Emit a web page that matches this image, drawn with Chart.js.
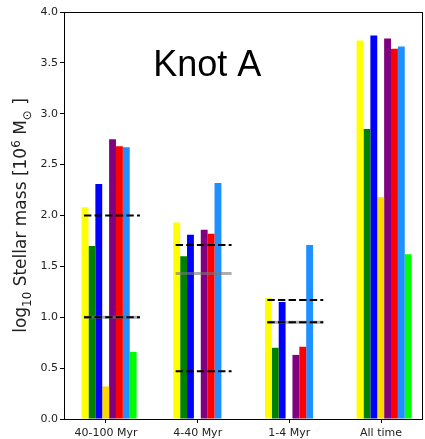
<!DOCTYPE html>
<html>
<head>
<meta charset="utf-8">
<script src="https://cdn.jsdelivr.net/npm/chart.js@4.4.1/dist/chart.umd.min.js"></script>
<style>
  html, body { margin: 0; padding: 0; background: #fff; }
  canvas { display: block; }
</style>
</head>
<body>
<canvas id="massChart" width="425" height="439"></canvas>
<script>
// ---- data (log10 stellar mass, 10^6 Msun) ----
const AGE_BINS = ['40-100 Myr', '4-40 Myr', '1-4 Myr', 'All time'];

const yellowVals = [2.08, 1.93, 1.19, 3.72];
const greenVals  = [1.70, 1.60, 0.70, 2.85];
const blueVals   = [2.31, 1.81, 1.15, 3.77];
const goldVals   = [0.32, null, null, 2.18];
const purpleVals = [2.75, 1.86, 0.63, 3.74];
const redVals    = [2.68, 1.82, 0.71, 3.64];
const dodgerVals = [2.67, 2.32, 1.71, 3.66];
const limeVals   = [0.66, null, null, 1.62];

// horizontal reference levels per age bin (first three bins only)
const dashUpper = [2.00, 1.71, 1.17];
const dashLower = [1.00, 0.47, 0.95];
const greyLevel = [1.00, 1.43, 0.95];

const Y_TICKS = [0, 0.5, 1, 1.5, 2, 2.5, 3, 3.5, 4];

// ============================================================
const SERIES = [
    { vals: yellowVals, color: '#ffff00' },
    { vals: greenVals,  color: '#008000' },
    { vals: blueVals,   color: '#0000ff' },
    { vals: goldVals,   color: '#ffd700' },
    { vals: purpleVals, color: '#800080' },
    { vals: redVals,    color: '#ff0000' },
    { vals: dodgerVals, color: '#1e90ff' },
    { vals: limeVals,   color: '#00ff00' }
];

const BAR_SHIFT = 0.034;          // bars sit half a bar right of the tick
const SEG_FROM = -0.24, SEG_TO = 0.37;

function segments(levels) {
    const pts = [];
    levels.forEach((v, i) => {
        pts.push({ x: i + SEG_FROM, y: v });
        pts.push({ x: i + SEG_TO, y: v });
        pts.push({ x: i + 0.5, y: null });
    });
    return pts;
}

const datasets = SERIES.map(s => ({
    type: 'bar',
    data: s.vals.map((v, i) => ({ x: i + BAR_SHIFT, y: v })),
    backgroundColor: s.color,
    borderWidth: 0,
    categoryPercentage: 0.6,
    barPercentage: 1.0,
    order: 5
}));

datasets.push({
    type: 'line',
    data: segments(greyLevel),
    borderColor: 'rgba(120,120,120,0.6)',
    borderWidth: 3,
    pointRadius: 0,
    spanGaps: false,
    order: 2
});
[dashUpper, dashLower].forEach(levels => {
    datasets.push({
        type: 'line',
        data: segments(levels),
        borderColor: '#000',
        borderWidth: 2,
        borderDash: [7.4, 3.2],
        pointRadius: 0,
        spanGaps: false,
        order: 1
    });
});

// frame, title text and y-axis label with sub/superscripts
const decorPlugin = {
    id: 'decor',
    afterDraw(chart) {
        const ctx = chart.ctx;
        const a = chart.chartArea;
        const xs = chart.scales.x, ys = chart.scales.y;

        ctx.save();
        ctx.strokeStyle = '#000';
        ctx.lineWidth = 1;
        ctx.strokeRect(a.left + 0.5, a.top + 0.5, a.right - a.left - 1, a.bottom - a.top);

        ctx.fillStyle = '#000';
        ctx.font = '36px "Liberation Sans", Arial, sans-serif';
        ctx.textAlign = 'center';
        ctx.textBaseline = 'alphabetic';
        ctx.fillText('Knot A', xs.getPixelForValue(1.105), ys.getPixelForValue(3.37));

        // rotated axis label
        const fs = 17;
        const parts = [
            ['log', 0, 1], ['10', 0.28, 0.7], [' Stellar mass [10', 0, 1],
            ['6', -0.38, 0.7], [' M', 0, 1], ['\u2299', 0.28, 0.7], [' ]', 0, 1]
        ];
        let total = 0;
        parts.forEach(p => {
            ctx.font = (fs * p[2]) + 'px "DejaVu Sans", sans-serif';
            p.w = ctx.measureText(p[0]).width;
            total += p.w;
        });
        ctx.translate(26, (a.top + a.bottom) / 2);
        ctx.rotate(-Math.PI / 2);
        ctx.textAlign = 'left';
        ctx.fillStyle = '#222';
        let x = -total / 2;
        parts.forEach(p => {
            ctx.font = (fs * p[2]) + 'px "DejaVu Sans", sans-serif';
            ctx.fillText(p[0], x, p[1] * fs);
            x += p.w;
        });
        ctx.restore();
    }
};

new Chart(document.getElementById('massChart'), {
    data: { datasets: datasets },
    options: {
        responsive: false,
        animation: false,
        devicePixelRatio: 1,
        layout: { padding: { top: 12, right: 2, left: 0, bottom: 0 } },
        plugins: {
            legend: { display: false },
            tooltip: { enabled: false }
        },
        scales: {
            x: {
                type: 'linear',
                offset: false,
                min: -0.458,
                max: 3.458,
                afterBuildTicks: s => { s.ticks = AGE_BINS.map((_, i) => ({ value: i })); },
                afterFit: s => { s.height = 20; },
                grid: { offset: false, drawOnChartArea: false, tickLength: 4, tickColor: '#000' },
                border: { display: false },
                ticks: {
                    padding: 4,
                    color: '#222',
                    font: { family: 'DejaVu Sans', size: 11 },
                    callback: v => AGE_BINS[v]
                }
            },
            y: {
                min: 0,
                max: 4,
                afterBuildTicks: s => { s.ticks = Y_TICKS.map(v => ({ value: v })); },
                afterFit: s => { s.width = 64; },
                grid: { drawOnChartArea: false, tickLength: 4, tickColor: '#000' },
                border: { display: false },
                ticks: {
                    padding: 2,
                    color: '#222',
                    font: { family: 'DejaVu Sans', size: 11 },
                    callback: v => v.toFixed(1)
                }
            }
        }
    },
    plugins: [decorPlugin]
});
</script>
</body>
</html>
